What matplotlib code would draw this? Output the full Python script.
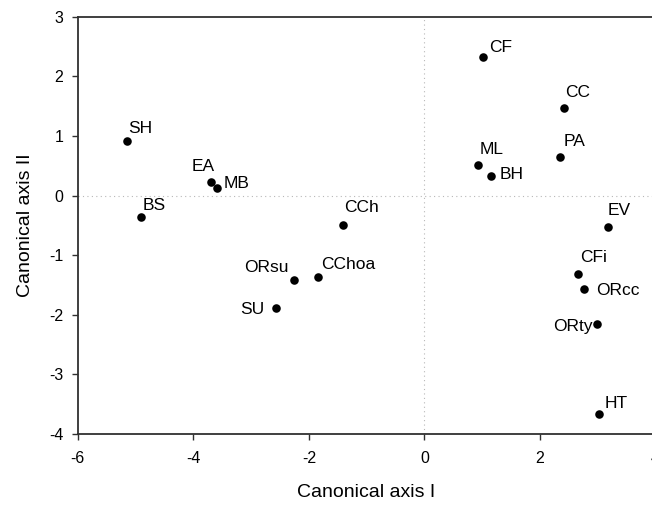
import matplotlib
matplotlib.use("Agg")
import matplotlib.pyplot as plt

plt.rcParams['font.family'] = ['Liberation Sans', 'DejaVu Sans']
plt.rcParams['axes.unicode_minus'] = False

# canonical scores
names = ["SH", "EA", "MB", "BS", "CF", "CC", "PA", "ML", "BH", "CCh", "EV",
         "ORsu", "CChoa", "SU", "CFi", "ORcc", "ORty", "HT"]
axis1 = [-5.15, -3.70, -3.59, -4.91, 1.02, 2.42, 2.34, 0.92, 1.16, -1.41, 3.18,
         -2.26, -1.84, -2.56, 2.65, 2.76, 2.98, 3.03]
axis2 = [0.92, 0.23, 0.12, -0.36, 2.32, 1.47, 0.65, 0.52, 0.33, -0.49, -0.52,
         -1.41, -1.37, -1.89, -1.32, -1.56, -2.15, -3.67]

xticks = [-6, -4, -2, 0, 2, 4]
yticks = [-4, -3, -2, -1, 0, 1, 2, 3]

# label placement: (ha, dx px, dy px) relative to the dot, baseline aligned
label_pos = {
    "SH": ("left", 1.5, 8), "EA": ("right", 4, 11.3), "MB": ("left", 6.7, 0.6),
    "BS": ("left", 2, 7), "CF": ("left", 6, 5.6), "CC": ("left", 0.6, 11),
    "PA": ("left", 4.3, 11), "ML": ("left", 2.3, 11), "BH": ("left", 8, -3.3),
    "CCh": ("left", 0.7, 12.7), "EV": ("left", -1, 12), "ORsu": ("right", -5.3, 7.7),
    "CChoa": ("left", 3.4, 8), "SU": ("right", -11.7, -6), "CFi": ("left", 2.3, 12),
    "ORcc": ("left", 12.7, -6), "ORty": ("right", -3.6, -7), "HT": ("left", 5.3, 6.6),
}

fig = plt.figure(figsize=(6.52, 5.05), dpi=100)
ax = fig.add_axes([0.1192, 0.1406, 0.8862, 0.8263])

ax.axhline(0, color="#b8b8b8", lw=0.8, ls=(0, (1, 3)), zorder=1)
ax.axvline(0, color="#b8b8b8", lw=0.8, ls=(0, (1, 3)), zorder=1)

ax.scatter(axis1, axis2, s=38, color="black", zorder=3, linewidths=0)

px = 0.72  # pixels -> points at 100 dpi
for n, x, y in zip(names, axis1, axis2):
    ha, dx, dy = label_pos[n]
    ax.annotate(n, (x, y), xytext=(dx * px, dy * px), textcoords="offset points",
                ha=ha, va="baseline", fontsize=12.5)

ax.set_xlim(-6, 4)
ax.set_ylim(-4, 3)
ax.set_xticks(xticks)
ax.set_yticks(yticks)

for side in ["left", "bottom", "top", "right"]:
    ax.spines[side].set_color("#303030")
    ax.spines[side].set_linewidth(1.3)

ax.tick_params(direction="out", length=4.3, width=1, color="#303030",
               labelsize=11.5, top=False, right=False)
ax.tick_params(axis="x", pad=8)
ax.tick_params(axis="y", pad=6)

ax.set_xlabel("Canonical axis I", fontsize=14)
ax.set_ylabel("Canonical axis II", fontsize=14)
ax.xaxis.set_label_coords(0.5, -0.12)
ax.yaxis.set_label_coords(-0.0756, 0.5)

fig.savefig("out.png", dpi=100)
